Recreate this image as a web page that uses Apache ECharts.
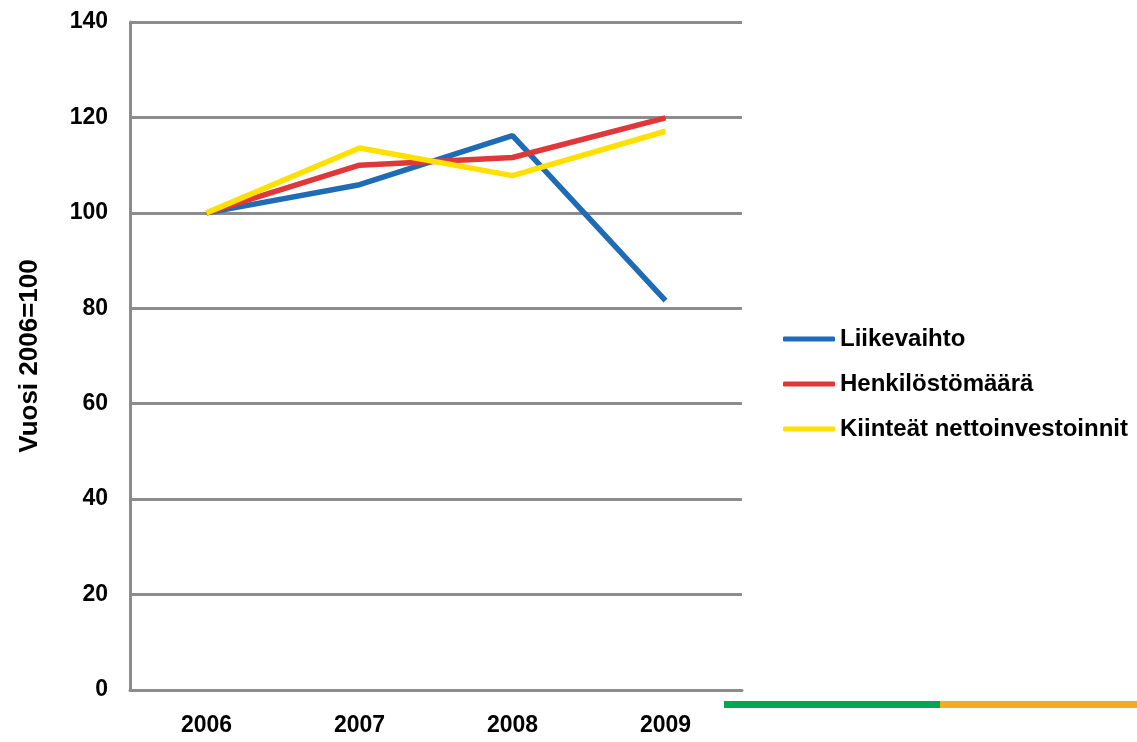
<!DOCTYPE html>
<html><head><meta charset="utf-8">
<script src="https://cdn.jsdelivr.net/npm/echarts@6/dist/echarts.min.js"></script>
<style>html,body{margin:0;padding:0;background:#fff}#c{width:1137px;height:742px}</style>
</head><body><div id="c"></div>
<script>
var categories = ['2006','2007','2008','2009'];
var liikevaihto = [100, 105.9, 116.2, 81.6];
var henkilosto = [100, 110, 111.6, 119.9];
var investoinnit = [100, 113.6, 107.8, 117.1];
var seriesNames = ['Liikevaihto','Henkilöstömäärä','Kiinteät nettoinvestoinnit'];
var colors = ['#1F6BB5','#E0383A','#FFE000'];

var chart = echarts.init(document.getElementById('c'));
var font = 'Liberation Sans, Arial, sans-serif';
function mk(name, data, color){
  return {name:name,type:'line',data:data,symbol:'none',smooth:false,
    lineStyle:{width:5.5,color:color},itemStyle:{color:color}};
}
chart.setOption({
  animation:false,
  grid:{left:130,right:395,top:22,bottom:52},
  legend:{orient:'vertical',left:778,top:322,itemGap:21,itemWidth:52,itemHeight:5,
    icon:'roundRect',
    textStyle:{fontFamily:font,fontWeight:'bold',fontSize:24,color:'#000'},
    data:seriesNames},
  xAxis:{type:'category',data:categories,boundaryGap:true,
    axisLine:{lineStyle:{color:'#8c8c8c',width:3}},
    axisTick:{show:false},
    axisLabel:{margin:24,fontFamily:font,fontWeight:'bold',fontSize:23,color:'#000'}},
  yAxis:{type:'value',min:0,max:140,interval:20,
    name:'Vuosi 2006=100',nameLocation:'middle',nameGap:87,nameRotate:90,
    nameTextStyle:{fontFamily:font,fontWeight:'bold',fontSize:26,color:'#000'},
    axisLine:{show:true,lineStyle:{color:'#8c8c8c',width:3}},
    axisTick:{show:false},
    splitLine:{lineStyle:{color:'#8c8c8c',width:3}},
    axisLabel:{margin:22,fontFamily:font,fontWeight:'bold',fontSize:23,color:'#000'}},
  series:[mk(seriesNames[0],liikevaihto,colors[0]),mk(seriesNames[1],henkilosto,colors[1]),mk(seriesNames[2],investoinnit,colors[2])],
  graphic:[
    {type:'rect',shape:{x:724,y:701,width:216,height:7},style:{fill:'#00A651'}},
    {type:'rect',shape:{x:940,y:701,width:197,height:7},style:{fill:'#F2AC22'}}
  ]
});
</script></body></html>
